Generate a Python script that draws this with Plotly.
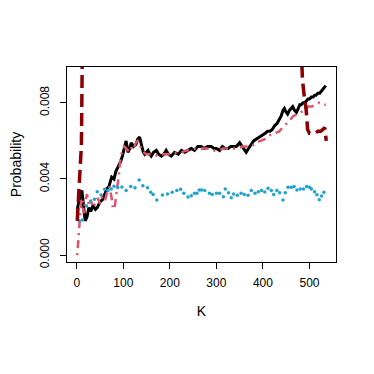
import plotly.graph_objects as go

# black solid series
k_black = [1, 4, 8, 11, 14, 18, 22, 26, 30, 35, 40, 44, 50, 55, 60, 65, 69, 75, 80, 84,
           90, 94, 98, 102, 106, 110, 114, 117, 122, 127, 131, 135, 139, 143, 146, 150,
           153, 157, 160, 165, 171, 176, 182, 187, 192, 197, 203, 210, 218, 225, 232,
           239, 246, 253, 260, 267, 274, 281, 289, 295, 300, 307, 313, 319, 325, 331,
           337, 343, 350, 355, 360, 364, 369, 375, 380, 386, 393, 400, 405, 410, 415,
           420, 425, 430, 435, 439, 443, 446, 450, 453, 457, 460, 464, 468, 472, 476,
           479, 482, 486, 490, 493, 497, 500, 504, 508, 511, 514, 518, 522, 525, 529,
           532, 535]
p_black = [0.0024, 0.0028, 0.0032, 0.0034, 0.0026, 0.0018, 0.0020, 0.0025, 0.0023, 0.0026,
           0.0024, 0.0025, 0.0028, 0.0029, 0.0032, 0.0035, 0.0036, 0.0041, 0.0040, 0.0044,
           0.0047, 0.0049, 0.0052, 0.0057, 0.0060, 0.0054, 0.0056, 0.0059, 0.0057, 0.0058,
           0.0061, 0.0062, 0.0057, 0.0054, 0.0053, 0.0054, 0.0055, 0.0053, 0.0052, 0.0054,
           0.0055, 0.0053, 0.0052, 0.0053, 0.0055, 0.0053, 0.0052, 0.0054, 0.0053, 0.0055,
           0.0054, 0.0055, 0.0056, 0.0055, 0.0057, 0.0057, 0.0056, 0.0057, 0.0057, 0.0056,
           0.0056, 0.0055, 0.0057, 0.0056, 0.0056, 0.0057, 0.0057, 0.0057, 0.0059, 0.0057,
           0.0055, 0.0054, 0.0056, 0.0058, 0.0060, 0.0061, 0.0062, 0.0063, 0.0064, 0.0065,
           0.0065, 0.0066, 0.0068, 0.0069, 0.0071, 0.0073, 0.0076, 0.0077, 0.0075, 0.0074,
           0.0076, 0.0077, 0.0078, 0.0076, 0.0075, 0.0077, 0.0079, 0.0079, 0.0080, 0.0080,
           0.0081, 0.0082, 0.0082, 0.0083, 0.0083, 0.0084, 0.0084, 0.0085, 0.0085, 0.0086,
           0.0087, 0.0088, 0.0089]

# pink dot-dash series
k_pink = [1, 3, 5, 7, 9, 12, 15, 18, 22, 26, 30, 35, 40, 45, 50, 55, 61, 65, 70, 75, 78,
          82, 86, 90, 94, 98, 102, 106, 110, 114, 118, 122, 127, 131, 135, 139, 143, 150,
          157, 165, 175, 185, 195, 205, 215, 225, 235, 245, 255, 265, 275, 285, 295, 305,
          315, 325, 335, 345, 355, 365, 375, 385, 395, 405, 415, 425, 435, 446, 455, 465,
          472, 480, 489, 497, 505, 513, 521, 528, 535]
p_pink = [0.0000, 0.0008, 0.0014, 0.0022, 0.0027, 0.0030, 0.0022, 0.0028, 0.0032, 0.0026,
          0.0029, 0.0025, 0.0028, 0.0030, 0.0027, 0.0031, 0.0029, 0.0033, 0.0036, 0.0030,
          0.0024, 0.0026, 0.0034, 0.0041, 0.0051, 0.0055, 0.0057, 0.0056, 0.0055, 0.0054,
          0.0057, 0.0056, 0.0059, 0.0060, 0.0059, 0.0055, 0.0054, 0.0053, 0.0053, 0.0053,
          0.0052, 0.0053, 0.0053, 0.0053, 0.0054, 0.0054, 0.0055, 0.0055, 0.0056, 0.0056,
          0.0056, 0.0056, 0.0055, 0.0055, 0.0056, 0.0056, 0.0056, 0.0056, 0.0057, 0.0057,
          0.0057, 0.0059, 0.0060, 0.0061, 0.0063, 0.0064, 0.0065, 0.0068, 0.0070, 0.0073,
          0.0074, 0.0075, 0.0076, 0.0078, 0.0078, 0.0079, 0.0080, 0.0079, 0.0079]

# cyan points
k_cyan = [5, 12, 21, 30, 38, 44, 52, 60, 67, 74, 80, 88, 97, 106, 116, 125, 134, 142, 152,
          159, 164, 172, 184, 195, 205, 215, 223, 230, 239, 246, 253, 258, 263, 268, 275,
          285, 291, 300, 307, 315, 319, 326, 332, 337, 345, 353, 360, 368, 375, 383, 390,
          397, 404, 411, 418, 423, 430, 436, 443, 448, 454, 461, 467, 473, 480, 487, 494,
          500, 504, 511, 516, 521, 526, 531]
p_cyan = [0.00180, 0.00184, 0.00258, 0.00280, 0.00293, 0.00333, 0.00316, 0.00346, 0.00340,
          0.00348, 0.00362, 0.00355, 0.00358, 0.00339, 0.00360, 0.00354, 0.00395, 0.00365,
          0.00354, 0.00330, 0.00319, 0.00290, 0.00316, 0.00321, 0.00330, 0.00339, 0.00346,
          0.00325, 0.00305, 0.00312, 0.00325, 0.00325, 0.00342, 0.00342, 0.00339, 0.00325,
          0.00319, 0.00325, 0.00325, 0.00307, 0.00347, 0.00328, 0.00302, 0.00321, 0.00314,
          0.00325, 0.00319, 0.00314, 0.00339, 0.00325, 0.00333, 0.00339, 0.00332, 0.00351,
          0.00339, 0.00319, 0.00339, 0.00328, 0.00289, 0.00328, 0.00356, 0.00356, 0.00360,
          0.00342, 0.00347, 0.00347, 0.00360, 0.00356, 0.00347, 0.00333, 0.00317, 0.00291,
          0.00311, 0.00330]

# dark red dashed series (leaves the top of the plot between the two pieces)
k_red = [1, 3, 5, 8, 10, 12, None, 482, 485, 489, 493, 496, 500, 505, 512, 518, 524, 529, 533, 536]
p_red = [0.0018, 0.0027, 0.0033, 0.0042, 0.0058, 0.0110, None, 0.0110, 0.0092, 0.0083,
         0.0076, 0.0066, 0.0064, 0.0064, 0.0064, 0.0065, 0.0065, 0.0066, 0.0067, 0.0060]

fig = go.Figure()
fig.add_trace(go.Scatter(x=k_black, y=p_black, mode='lines',
                         line=dict(color='black', width=3)))
fig.add_trace(go.Scatter(x=k_pink, y=p_pink, mode='lines',
                         line=dict(color='#DF536B', width=2.5, dash='2px,5px,8px,5px')))
fig.add_trace(go.Scatter(x=k_cyan, y=p_cyan, mode='markers',
                         marker=dict(color='#1FA3D1', size=3.5)))
fig.add_trace(go.Scatter(x=k_red, y=p_red, mode='lines', connectgaps=False,
                         line=dict(color='#8B0000', width=3.5, dash='13px,6px')))

axis_style = dict(showline=True, mirror=True, linecolor='black', linewidth=1,
                  ticks='outside', ticklen=6, tickcolor='black', showgrid=False,
                  zeroline=False, automargin=False,
                  tickfont=dict(size=12, color='black'))

# page body adds an 8px offset, so margins are shifted to keep the box in place
fig.update_layout(
    width=374, height=374,
    margin=dict(l=59, r=46, t=59, b=120),
    paper_bgcolor='white', plot_bgcolor='white',
    font=dict(family='Liberation Sans, Arial', size=12, color='black'),
    showlegend=False,
    xaxis=dict(range=[-21, 557], tickvals=[0, 100, 200, 300, 400, 500],
               ticklabelstandoff=4,
               title=dict(text='K', standoff=16), **axis_style),
    yaxis=dict(range=[-0.00036, 0.00988], tickvals=[0, 0.004, 0.008],
               ticktext=['0.000', '0.004', '0.008'], tickangle=-90,
               ticklabelstandoff=6,
               title=dict(text='Probability', standoff=14), **axis_style),
)

fig.write_html("out.html")
